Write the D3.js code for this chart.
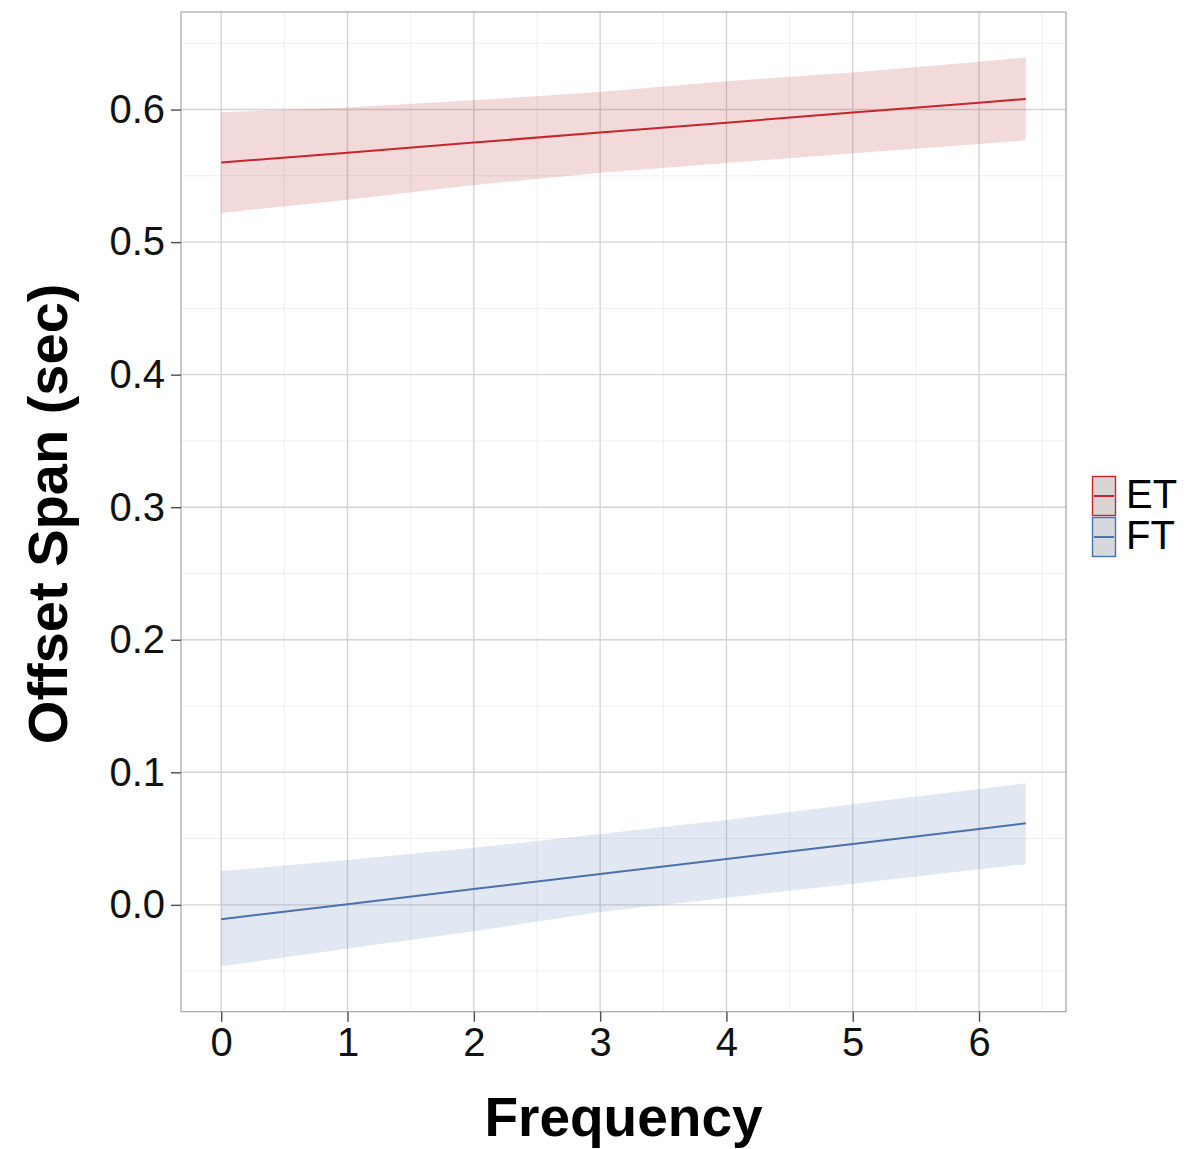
<!DOCTYPE html>
<html><head><meta charset="utf-8">
<script src="https://cdn.jsdelivr.net/npm/d3@7"></script>
<style>body{margin:0;background:#fff;}svg{display:block;font-family:"Liberation Sans",Arial,sans-serif;}</style>
</head><body>
<svg id="chart" width="1187" height="1149"></svg>
<script>
// ---- data ----
const frequency = [0, 1, 2, 3, 4, 5, 6, 6.37];
const etFit   = [0.560, 0.5675, 0.5751, 0.5826, 0.5901, 0.5977, 0.6052, 0.608];
const etUpper = [0.598, 0.6015, 0.607, 0.6133, 0.6214, 0.628, 0.636, 0.6393];
const etLower = [0.522, 0.532, 0.543, 0.5524, 0.5597, 0.567, 0.574, 0.5768];
const ftFit   = [-0.0108, 0.0005, 0.0119, 0.0232, 0.0346, 0.0459, 0.0573, 0.0615];
const ftUpper = [0.0255, 0.0338, 0.043, 0.0534, 0.064, 0.076, 0.0875, 0.0917];
const ftLower = [-0.0463, -0.033, -0.0199, -0.0053, 0.0054, 0.016, 0.0269, 0.0307];
const seriesNames = ["ET", "FT"];
const xTicks = [0, 1, 2, 3, 4, 5, 6];
const yTicks = [0.0, 0.1, 0.2, 0.3, 0.4, 0.5, 0.6];
const xMinor = [0.5, 1.5, 2.5, 3.5, 4.5, 5.5, 6.5];
const yMinor = [-0.05, 0.05, 0.15, 0.25, 0.35, 0.45, 0.55, 0.65];

const lineColors = {ET: "#c8242c", FT: "#4a70ae"};
const bandColors = {ET: "rgb(190,65,70)", FT: "rgb(105,140,185)"};

const series = [
  {name: "ET", fit: etFit, up: etUpper, lo: etLower},
  {name: "FT", fit: ftFit, up: ftUpper, lo: ftLower}
];

const svg = d3.select("#chart");
const P = {left: 181, right: 1066, top: 12, bottom: 1011.7};
const x = d3.scaleLinear().domain([-0.3185, 6.6885]).range([P.left, P.right]);
const y = d3.scaleLinear().domain([-0.0806, 0.6736]).range([P.bottom, P.top]);

svg.append("rect").attr("x", P.left).attr("y", P.top)
  .attr("width", P.right - P.left).attr("height", P.bottom - P.top).attr("fill", "#fff");

const grid = svg.append("g");
grid.selectAll(".xmin").data(xMinor).join("line")
  .attr("x1", d => x(d)).attr("x2", d => x(d)).attr("y1", P.top).attr("y2", P.bottom)
  .attr("stroke", "#efefef").attr("stroke-width", 1);
grid.selectAll(".ymin").data(yMinor).join("line")
  .attr("y1", d => y(d)).attr("y2", d => y(d)).attr("x1", P.left).attr("x2", P.right)
  .attr("stroke", "#efefef").attr("stroke-width", 1);
grid.selectAll(".xmaj").data(xTicks).join("line")
  .attr("x1", d => x(d)).attr("x2", d => x(d)).attr("y1", P.top).attr("y2", P.bottom)
  .attr("stroke", "#d4d4d4").attr("stroke-width", 1.4);
grid.selectAll(".ymaj").data(yTicks).join("line")
  .attr("y1", d => y(d)).attr("y2", d => y(d)).attr("x1", P.left).attr("x2", P.right)
  .attr("stroke", "#d4d4d4").attr("stroke-width", 1.4);

series.forEach(s => {
  const pts = frequency.map((f, i) => ({f, fit: s.fit[i], up: s.up[i], lo: s.lo[i]}));
  svg.append("path").datum(pts)
    .attr("d", d3.area().x(d => x(d.f)).y0(d => y(d.lo)).y1(d => y(d.up)))
    .attr("fill", bandColors[s.name]).attr("fill-opacity", 0.2);
  svg.append("path").datum(pts)
    .attr("d", d3.line().x(d => x(d.f)).y(d => y(d.fit)))
    .attr("fill", "none").attr("stroke", lineColors[s.name]).attr("stroke-width", 2);
});

svg.append("rect").attr("x", P.left).attr("y", P.top)
  .attr("width", P.right - P.left).attr("height", P.bottom - P.top)
  .attr("fill", "none").attr("stroke", "#a6a6a6").attr("stroke-width", 1.2);

const xAxis = svg.append("g").attr("transform", `translate(0,${P.bottom})`)
  .call(d3.axisBottom(x).tickValues(xTicks).tickSize(10).tickPadding(6).tickFormat(d3.format("d")));
xAxis.select(".domain").remove();
xAxis.selectAll("line").attr("stroke", "#4d4d4d").attr("stroke-width", 1.4);
xAxis.selectAll("text").attr("font-size", 40).attr("fill", "#111").attr("font-family", "Liberation Sans, Arial, sans-serif");

const yAxis = svg.append("g").attr("transform", `translate(${P.left},0)`)
  .call(d3.axisLeft(y).tickValues(yTicks).tickSize(10).tickPadding(6).tickFormat(d3.format(".1f")));
yAxis.select(".domain").remove();
yAxis.selectAll("line").attr("stroke", "#4d4d4d").attr("stroke-width", 1.4);
yAxis.selectAll("text").attr("font-size", 40).attr("fill", "#111").attr("font-family", "Liberation Sans, Arial, sans-serif");

svg.append("text").attr("x", (P.left + P.right) / 2).attr("y", 1136)
  .attr("text-anchor", "middle").attr("font-size", 55).attr("font-weight", "bold").attr("fill", "#000")
  .text("Frequency");
svg.append("text").attr("transform", `translate(67,${(P.top + P.bottom) / 2 + 2}) rotate(-90)`)
  .attr("text-anchor", "middle").attr("font-size", 56).attr("font-weight", "bold").attr("fill", "#000")
  .text("Offset Span (sec)");

const leg = svg.append("g").attr("transform", "translate(1092,476)");
seriesNames.forEach((n, i) => {
  const g = leg.append("g").attr("transform", `translate(0,${i * 41})`);
  g.append("rect").attr("x", 0.5).attr("y", 0.5).attr("width", 23).attr("height", 39)
    .attr("fill", "#dedede").attr("stroke", lineColors[n]).attr("stroke-width", 1.4);
  g.append("rect").attr("x", 1).attr("y", 1).attr("width", 22).attr("height", 38)
    .attr("fill", bandColors[n]).attr("fill-opacity", 0.06);
  g.append("line").attr("x1", 2).attr("x2", 22).attr("y1", 20).attr("y2", 20)
    .attr("stroke", lineColors[n]).attr("stroke-width", 2);
  g.append("text").attr("x", 34).attr("y", 32).attr("font-size", 40).attr("fill", "#000").text(n);
});
</script>
</body></html>
